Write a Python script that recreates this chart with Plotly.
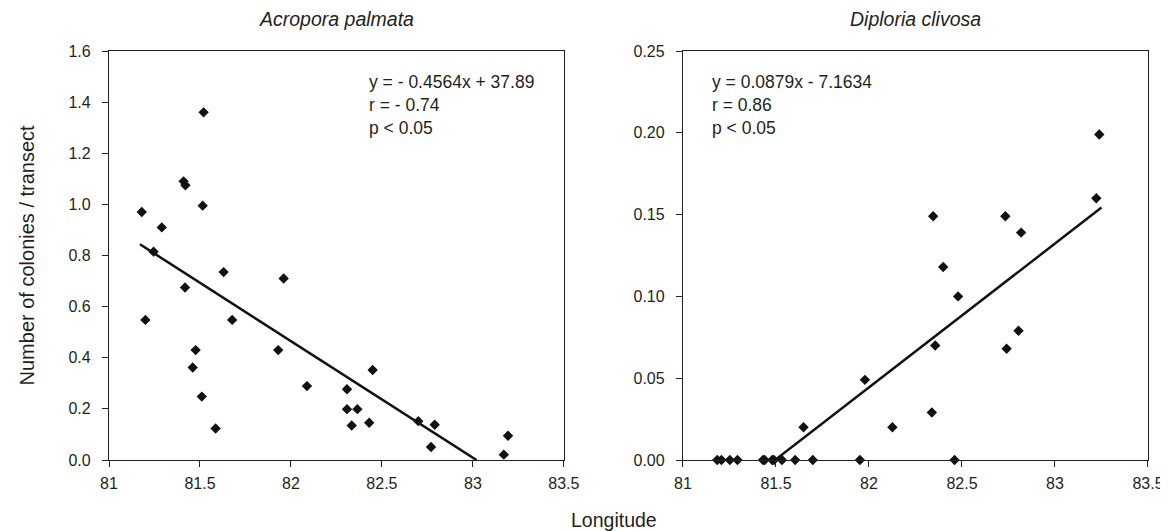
import plotly.graph_objects as go

# ---- data: Acropora palmata ----
ap_lon = [81.52, 81.41, 81.42, 81.515, 81.18, 81.29, 81.245, 81.63, 81.96, 81.418,
          81.20, 81.677, 81.476, 81.93, 81.46, 82.088, 81.51, 81.586,
          82.449, 82.308, 82.308, 82.365, 82.334, 82.43, 82.70, 82.79, 82.77, 83.193, 83.17]
ap_val = [1.36, 1.09, 1.075, 0.995, 0.97, 0.91, 0.815, 0.735, 0.71, 0.675,
          0.548, 0.548, 0.43, 0.43, 0.362, 0.289, 0.248, 0.123,
          0.352, 0.277, 0.199, 0.199, 0.135, 0.146, 0.152, 0.138, 0.051, 0.095, 0.021]
ap_slope, ap_intercept = -0.4564, 37.89
ap_fit_range = [81.17, 83.02]

# ---- data: Diploria clivosa ----
dc_lon = [81.184, 81.207, 81.252, 81.293, 81.43, 81.439, 81.48, 81.489, 81.532, 81.603,
          81.698, 81.951, 82.46, 81.648, 81.978, 82.126,
          83.238, 83.222, 82.345, 82.733, 82.818, 82.399, 82.479, 82.804, 82.356, 82.74, 82.338]
dc_val = [0, 0, 0, 0, 0, 0, 0, 0, 0, 0,
          0, 0, 0, 0.02, 0.049, 0.02,
          0.199, 0.16, 0.149, 0.149, 0.139, 0.118, 0.10, 0.079, 0.07, 0.068, 0.029]
dc_slope, dc_intercept = 0.0879, -7.1634
dc_fit_range = [81.497, 83.25]

x_ticks = [81, 81.5, 82, 82.5, 83, 83.5]
x_ticklabels = ["81", "81.5", "82", "82.5", "83", "83.5"]
ap_yticks = [0, 0.2, 0.4, 0.6, 0.8, 1.0, 1.2, 1.4, 1.6]
dc_yticks = [0, 0.05, 0.10, 0.15, 0.20, 0.25]

FONT = "Liberation Sans, Arial, sans-serif"
TXT = "#231f20"

W, H = 1168, 531
ML, MR, MT, MB = 101, 22, 43, 79
PW = W - ML - MR
PH = H - MT - MB


def px_x(p):
    return (p - ML) / PW


def px_y(p):
    return (H - MB - p) / PH


fig = go.Figure()
mk = dict(symbol="diamond", size=8, color="#111111")
fig.add_trace(go.Scatter(x=ap_lon, y=ap_val, mode="markers", marker=mk, cliponaxis=False,
                         xaxis="x", yaxis="y", showlegend=False))
fig.add_trace(go.Scatter(x=ap_fit_range, y=[ap_slope * v + ap_intercept for v in ap_fit_range],
                         mode="lines", line=dict(color="#111111", width=2.5),
                         xaxis="x", yaxis="y", showlegend=False))
fig.add_trace(go.Scatter(x=dc_lon, y=dc_val, mode="markers", marker=mk, cliponaxis=False,
                         xaxis="x2", yaxis="y2", showlegend=False))
fig.add_trace(go.Scatter(x=dc_fit_range, y=[dc_slope * v + dc_intercept for v in dc_fit_range],
                         mode="lines", line=dict(color="#111111", width=2.5),
                         xaxis="x2", yaxis="y2", showlegend=False))

axis_common = dict(showgrid=False, zeroline=False, showline=True, linecolor="#222222", linewidth=1.3,
                   mirror=True, ticks="outside", ticklen=6, tickwidth=1.3, tickcolor="#222222",
                   tickfont=dict(family=FONT, size=16, color=TXT))

d1 = [0, px_x(558.5)]
d2 = [px_x(678.3), 1]

fig.update_layout(
    width=W, height=H,
    margin=dict(l=ML, r=MR, t=MT, b=MB),
    paper_bgcolor="white", plot_bgcolor="white",
    xaxis=dict(domain=d1, range=[81, 83.5], tickvals=x_ticks, ticktext=x_ticklabels, anchor="y",
               ticklabelstandoff=3, **axis_common),
    yaxis=dict(domain=[0, 1], range=[0, 1.6], tickvals=ap_yticks, tickformat=".1f", anchor="x",
               ticklabelstandoff=8, **axis_common),
    xaxis2=dict(domain=d2, range=[81, 83.5], tickvals=x_ticks, ticktext=x_ticklabels, anchor="y2",
                ticklabelstandoff=3, **axis_common),
    yaxis2=dict(domain=[0, 1], range=[0, 0.25], tickvals=dc_yticks, tickformat=".2f", anchor="x2",
                ticklabelstandoff=8, **axis_common),
)

ann_font = dict(family=FONT, size=17.5, color=TXT)
title_font = dict(family=FONT, size=19.5, color=TXT)
anns = []
# panel titles
anns.append(dict(text="<i>Acropora palmata</i>", x=px_x(330), y=px_y(11), xref="paper", yref="paper",
                 showarrow=False, xanchor="center", yanchor="middle", font=title_font))
anns.append(dict(text="<i>Diploria clivosa</i>", x=px_x(912), y=px_y(11), xref="paper", yref="paper",
                 showarrow=False, xanchor="center", yanchor="middle", font=title_font))
# axis titles
anns.append(dict(text="Longitude", x=px_x(609), y=px_y(512), xref="paper", yref="paper",
                 showarrow=False, xanchor="center", yanchor="middle", font=title_font))
anns.append(dict(text="Number of colonies / transect", x=px_x(19), y=px_y(247), xref="paper", yref="paper",
                 showarrow=False, xanchor="center", yanchor="middle", textangle=-90,
                 font=dict(family=FONT, size=20, color=TXT)))
# regression stats
left_lines = ["y = - 0.4564x + 37.89", "r = - 0.74", "p < 0.05"]
right_lines = ["y = 0.0879x - 7.1634", "r = 0.86", "p < 0.05"]
line_y = [74, 97, 120]
for t, yy in zip(left_lines, line_y):
    anns.append(dict(text=t, x=px_x(360), y=px_y(yy), xref="paper", yref="paper", showarrow=False,
                     xanchor="left", yanchor="middle", font=ann_font))
for t, yy in zip(right_lines, line_y):
    anns.append(dict(text=t, x=px_x(705), y=px_y(yy), xref="paper", yref="paper", showarrow=False,
                     xanchor="left", yanchor="middle", font=ann_font))
fig.update_layout(annotations=anns)

fig.write_html("out.html")
